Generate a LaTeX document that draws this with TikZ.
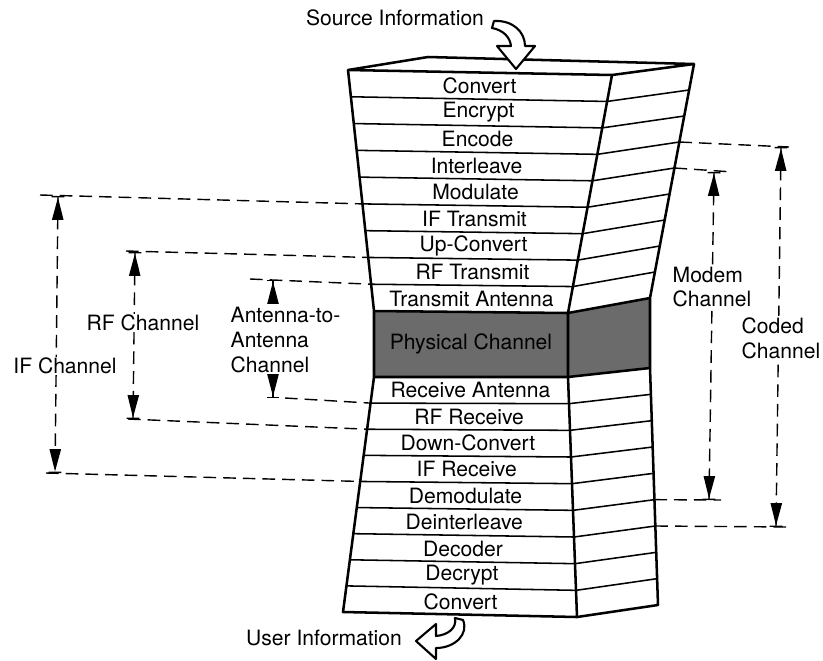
\documentclass[tikz,border=0pt]{standalone}
\usepackage{fontspec}
\setmainfont{TeX Gyre Heros}
\usetikzlibrary{calc,arrows.meta}
\tikzset{
  outline/.style={line width=1.8pt, line join=round},
  rowline/.style={line width=1.1pt},
  layer/.style={inner sep=0pt, font=\fontsize{15}{17.5}\selectfont},
  physfill/.style={fill=black!58},
  dimdash/.style={line width=1pt, dash pattern=on 9pt off 5pt},
  dimarrow/.style={dimdash, {Bar[width=9pt,sep=0pt]Triangle[length=16pt,width=8pt,sep=0pt]}-{Triangle[length=16pt,width=8pt,sep=0pt]Bar[width=9pt,sep=0pt]}},
  dimtip/.style={line width=1pt, -{Triangle[length=16pt,width=8pt,sep=0pt]Bar[width=9pt,sep=0pt]}},
  chlabel/.style={fill=white, inner sep=1pt, align=left, font=\fontsize{15}{17.5}\selectfont},
  flowarrow/.style={line width=1.5pt, fill=white, line join=round},
}
\newcommand{\uprow}[1]{ \draw[rowline] ($(ul0)!#1/9!(ul9)$) -- ($(ur0)!#1/9!(ur9)$) -- ($(ub0)!#1/9!(ub9)$);}
\newcommand{\lowrow}[1]{ \draw[rowline] ($(ll0)!#1/9!(ll9)$) -- ($(lr0)!#1/9!(lr9)$) -- ($(lb0)!#1/9!(lb9)$);}
\newcommand{\uplayer}[3]{ \node[layer] (#1) at ($($(ul0)!#2/9!(ul9)$)!0.5!($(ur0)!#2/9!(ur9)$)$) {#3};}
\newcommand{\lowlayer}[3]{ \node[layer] (#1) at ($($(ll0)!#2/9!(ll9)$)!0.5!($(lr0)!#2/9!(lr9)$)$) {#3};}
\begin{document}
\begin{tikzpicture}[x=0.025cm,y=-0.025cm]
        \useasboundingbox (0,0) rectangle (823,660);

        % corners of the stack
        \coordinate (ul0) at (348,70);
        \coordinate (ur0) at (612,75);
        \coordinate (ub0) at (694,64);
        \coordinate (uk0) at (428,57);
        \coordinate (ul9) at (374,311);
        \coordinate (ur9) at (568,313);
        \coordinate (ub9) at (650,298);
        \coordinate (ll0) at (374,377);
        \coordinate (lr0) at (568,377);
        \coordinate (lb0) at (650,368);
        \coordinate (ll9) at (343,612);
        \coordinate (lr9) at (577,617);
        \coordinate (lb9) at (658,605);

        % physical channel
        \fill[physfill] (ul9) -- (ur9) -- (ub9) -- (lb0) -- (lr0) -- (ll0) -- cycle;

        % upper rows
        \uprow{1}
        \uprow{2}
        \uprow{3}
        \uprow{4}
        \uprow{5}
        \uprow{6}
        \uprow{7}
        \uprow{8}

        % lower rows
        \lowrow{1}
        \lowrow{2}
        \lowrow{3}
        \lowrow{4}
        \lowrow{5}
        \lowrow{6}
        \lowrow{7}
        \lowrow{8}

        % outline
        \draw[outline] (ul0) -- (uk0) -- (ub0) -- (ur0) -- cycle;
        \draw[outline] (ul0) -- (ul9) -- (ll0) -- (ll9) -- (lr9) -- (lb9) -- (lb0) -- (ub9) -- (ub0);
        \draw[outline] (ur0) -- (ur9) -- (lr0) -- (lr9);
        \draw[outline] (ul9) -- (ur9) -- (ub9);
        \draw[outline] (ll0) -- (lr0) -- (lb0);

        % layer names
        \uplayer{convA}{0.5}{Convert}
        \uplayer{encr}{1.5}{Encrypt}
        \uplayer{enco}{2.5}{Encode}
        \uplayer{intl}{3.5}{Interleave}
        \uplayer{modu}{4.5}{Modulate}
        \uplayer{iftx}{5.5}{IF Transmit}
        \uplayer{upcv}{6.5}{Up-Convert}
        \uplayer{rftx}{7.5}{RF Transmit}
        \uplayer{txan}{8.5}{Transmit Antenna}
        \node[layer] (phys) at ($(ul9)!0.5!(lr0)$) {Physical Channel};
        \lowlayer{rxan}{0.5}{Receive Antenna}
        \lowlayer{rfrx}{1.5}{RF Receive}
        \lowlayer{dncv}{2.5}{Down-Convert}
        \lowlayer{ifrx}{3.5}{IF Receive}
        \lowlayer{demo}{4.5}{Demodulate}
        \lowlayer{dint}{5.5}{Deinterleave}
        \lowlayer{deco}{6.5}{Decoder}
        \lowlayer{decr}{7.5}{Decrypt}
        \lowlayer{convB}{8.5}{Convert}

        % ends of the dashed lines
        \coordinate (ift) at ($(ul0)!5/9!(ul9)$);
        \coordinate (rft) at ($(ul0)!7/9!(ul9)$);
        \coordinate (att) at ($(ul0)!8/9!(ul9)$);
        \coordinate (atb) at ($(ll0)!1/9!(ll9)$);
        \coordinate (rfb) at ($(ll0)!2/9!(ll9)$);
        \coordinate (ifb) at ($(ll0)!4/9!(ll9)$);
        \coordinate (codt) at ($(ub0)!3/9!(ub9)$);
        \coordinate (modt) at ($(ub0)!4/9!(ub9)$);
        \coordinate (modb) at ($(lb0)!5/9!(lb9)$);
        \coordinate (codb) at ($(lb0)!6/9!(lb9)$);
        \coordinate (ifta) at (40,195);
        \coordinate (ifba) at (46,473);
        \coordinate (rfta) at (126,251);
        \coordinate (rfba) at (128,419);
        \coordinate (atta) at (250,279);
        \coordinate (atba) at (285,398);
        \coordinate (codta) at (789,147);
        \coordinate (modta) at (733,172);
        \coordinate (modba) at (721,500);
        \coordinate (codba) at (790,527);

        \draw[dimdash] (ifta) -- (ift);
        \draw[dimdash] (ifba) -- (ifb);
        \draw[dimdash] (rfta) -- (rft);
        \draw[dimdash] (rfba) -- (rfb);
        \draw[dimdash] (atta) -- (att);
        \draw[dimdash] (atba) -- (atb);
        \draw[dimdash] (codt) -- (codta);
        \draw[dimdash] (modt) -- (modta);
        \draw[dimdash] (modb) -- (modba);
        \draw[dimdash] (codb) -- (codba);

        % dimension arrows
        \coordinate (ifup) at (58,196);
        \coordinate (ifdn) at (55,473);
        \coordinate (rfup) at (135,252);
        \coordinate (rfdn) at (133,419);
        \coordinate (atup) at (273,280);
        \coordinate (atus) at (273,299);
        \coordinate (atdn) at (273,398);
        \coordinate (atds) at (273,377);
        \coordinate (modup) at (714,172);
        \coordinate (moddn) at (709,500);
        \coordinate (codup) at (781,147);
        \coordinate (coddn) at (776,527);

        \draw[dimarrow] (ifup) -- (ifdn);
        \draw[dimarrow] (rfup) -- (rfdn);
        \draw[dimtip] (atus) -- (atup);
        \draw[dimtip] (atds) -- (atdn);
        \draw[dimarrow] (modup) -- (moddn);
        \draw[dimarrow] (codup) -- (coddn);

        % channel names
        \node[chlabel] (ifch) at (65,366) {IF Channel};
        \node[chlabel] (rfch) at (143,323) {RF Channel};
        \node[chlabel, anchor=west] (atch) at (229,340) {Antenna-to-\\Antenna\\Channel};
        \node[chlabel, anchor=west] (moch) at (671,287) {Modem\\Channel};
        \node[chlabel, anchor=west] (coch) at (740,338) {Coded\\Channel};

        % information flow
        \node[layer] (src) at (395,18) {Source Information};
        \node[layer] (usr) at (324,638) {User Information};
        \draw[flowarrow] (494,21) .. controls (513,20) and (525,32) .. (525,46) -- (535,46) -- (516,69)
            -- (497,46) -- (511,46) .. controls (510,37) and (503,30) .. (492,28) -- cycle;
        \draw[flowarrow] (455,618) -- (463,620) .. controls (469,634) and (455,648) .. (436,648) -- (436,659)
            -- (416,641) -- (436,624) -- (436,636) .. controls (448,635) and (457,628) .. cycle;

\end{tikzpicture}
\end{document}
